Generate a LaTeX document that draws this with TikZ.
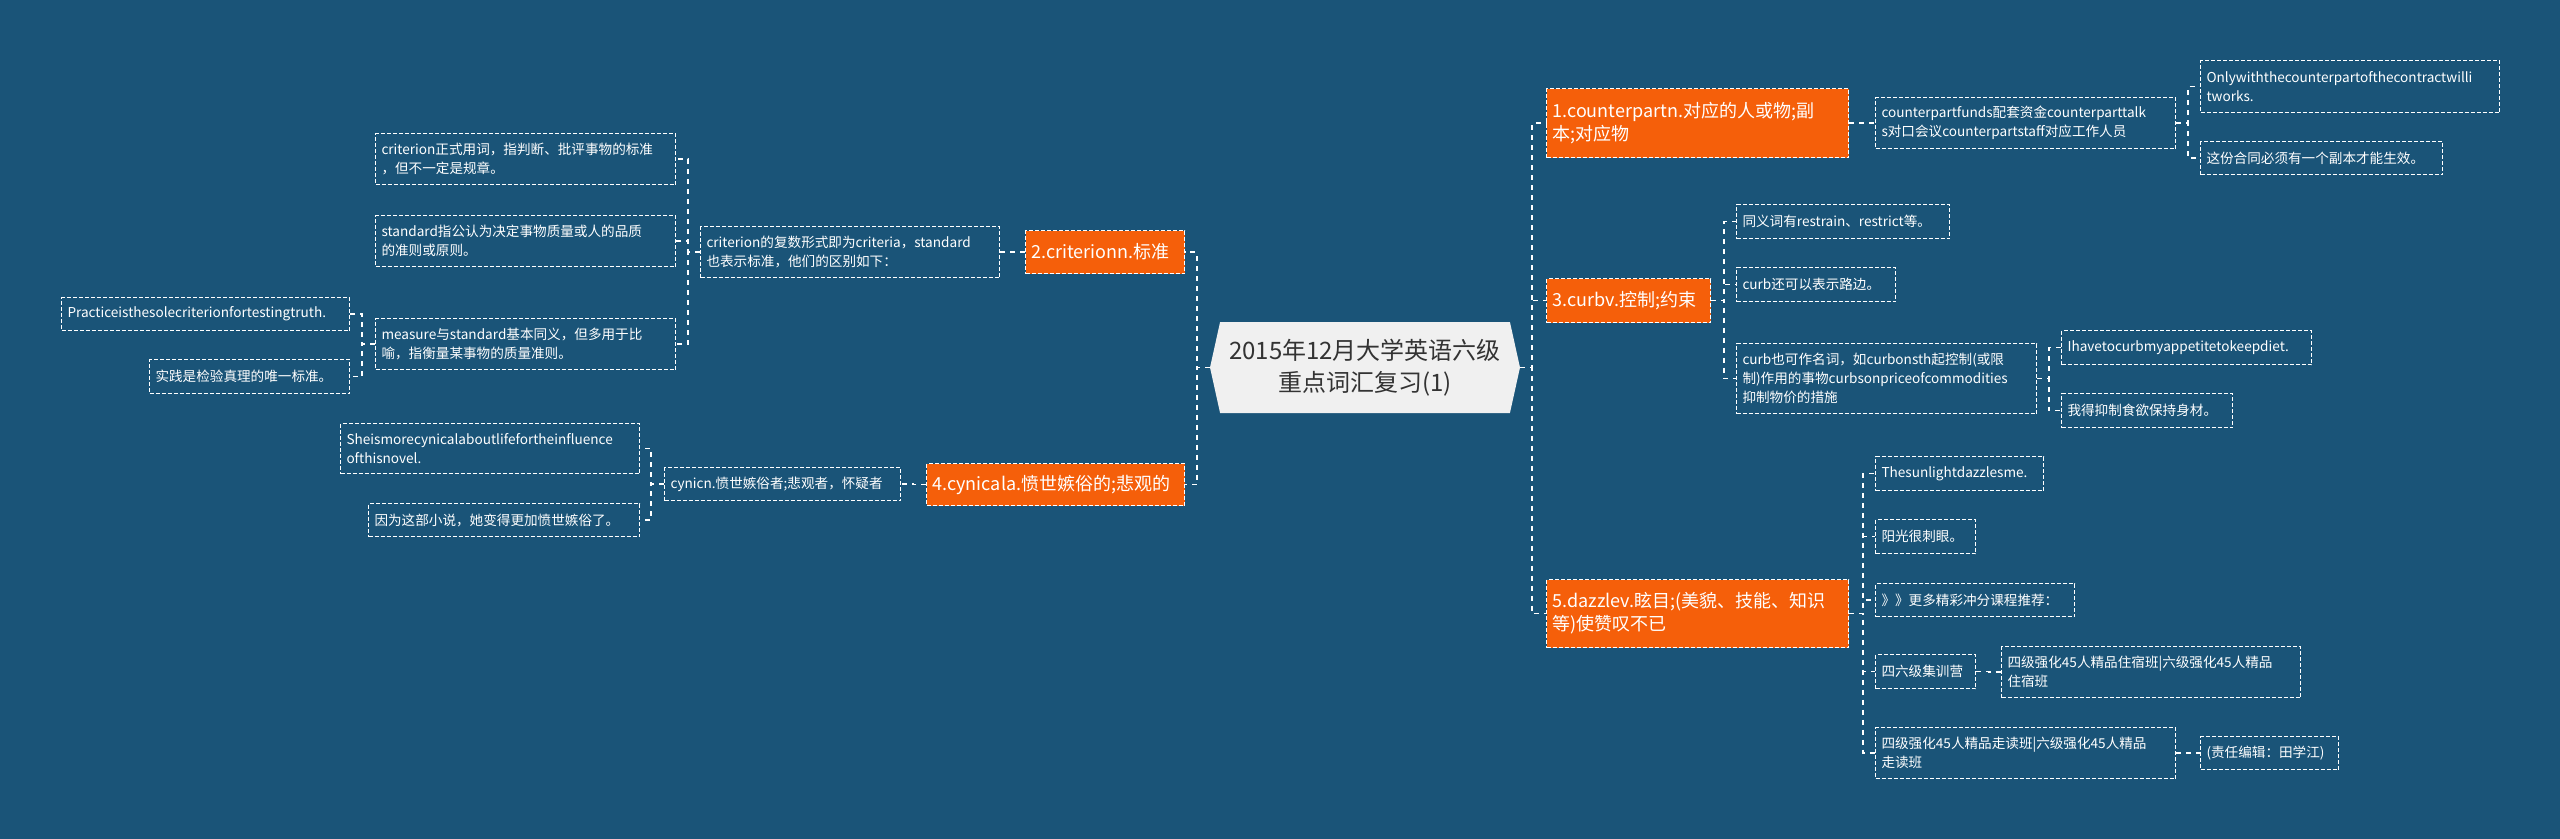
\documentclass[tikz,border=0pt]{standalone}
\usepackage{fontspec}
\setmainfont{Noto Sans CJK SC}
\usepackage{xcolor}
\usepackage{tikz}
\usetikzlibrary{shapes.symbols}
\definecolor{mapbg}{HTML}{1A5478}
\definecolor{topicfill}{HTML}{F55F0A}
\definecolor{rootfill}{HTML}{F0F0F0}
\definecolor{roottext}{HTML}{333333}

\begin{document}
\begin{tikzpicture}[
  x=0.75pt, y=-0.75pt,
  leaf/.style={draw=white, dash pattern=on 3pt off 1.5pt, line width=0.75pt, text=white,
               font=\fontsize{10.2}{14.25}\selectfont, align=left, anchor=north west,
               inner xsep=4.5pt, inner ysep=0pt},
  topic/.style={leaf, fill=topicfill, font=\fontsize{13.5}{17.25}\selectfont},
  root/.style={signal, signal to=west and east, signal pointer angle=155, fill=rootfill,
               text=roottext, font=\fontsize{18}{24}\selectfont, align=center,
               minimum width=232.5pt, minimum height=68.25pt, inner sep=0pt},
  link/.style={draw=white, dash pattern=on 3.75pt off 3.75pt, line width=1.2pt},
]
\useasboundingbox (0,0) rectangle (2560,839);
\fill[mapbg] (0,0) rectangle (2560,839);

\node[root] (root) at (1365,367.5) {2015年12月大学英语六级\\重点词汇复习(1)};

\node[topic, text width=110.25pt, minimum height=32.25pt] (crit) at (1025,230) {2.criterionn.标准};
\node[leaf, text width=215.25pt, minimum height=38.25pt] (critsub) at (700,226) {criterion的复数形式即为criteria，standard\\也表示标准，他们的区别如下：};
\node[leaf, text width=216pt, minimum height=38.25pt] (critA) at (375,133) {criterion正式用词，指判断、批评事物的标准\\，但不一定是规章。};
\node[leaf, text width=216pt, minimum height=38.25pt] (critB) at (375,215) {standard指公认为决定事物质量或人的品质\\的准则或原则。};
\node[leaf, text width=216pt, minimum height=38.25pt] (critC) at (375,318) {measure与standard基本同义，但多用于比\\喻，指衡量某事物的质量准则。};
\node[leaf, text width=207pt, minimum height=24.75pt] (critCa) at (61,297) {Practiceisthesolecriterionfortestingtruth.};
\node[leaf, text width=141pt, minimum height=25.5pt] (critCb) at (149,359) {实践是检验真理的唯一标准。};

\node[topic, text width=184.5pt, minimum height=31.5pt] (cyn) at (926,463) {4.cynicala.愤世嫉俗的;悲观的};
\node[leaf, text width=168pt, minimum height=24.75pt] (cynsub) at (664,467) {cynicn.愤世嫉俗者;悲观者，怀疑者};
\node[leaf, text width=215.25pt, minimum height=37.5pt] (cynA) at (340,423) {Sheismorecynicalaboutlifefortheinfluence\\ofthisnovel.};
\node[leaf, text width=194.25pt, minimum height=24.75pt] (cynB) at (368,503) {因为这部小说，她变得更加愤世嫉俗了。};

\node[topic, text width=217.5pt, minimum height=51.75pt] (cp) at (1546,88) {1.counterpartn.对应的人或物;副\\本;对应物};
\node[leaf, text width=216pt, minimum height=38.25pt] (cpsub) at (1875,97) {counterpartfunds配套资金counterparttalk\\s对口会议counterpartstaff对应工作人员};
\node[leaf, text width=215.25pt, minimum height=39pt] (cpA) at (2200,60) {Onlywiththecounterpartofthecontractwilli\\tworks.};
\node[leaf, text width=172.5pt, minimum height=24.75pt] (cpB) at (2200,141) {这份合同必须有一个副本才能生效。};

\node[topic, text width=114pt, minimum height=33pt] (curb) at (1546,278) {3.curbv.控制;约束};
\node[leaf, text width=150.75pt, minimum height=25.5pt] (curbA) at (1736,204) {同义词有restrain、restrict等。};
\node[leaf, text width=110.25pt, minimum height=25.5pt] (curbB) at (1736,267) {curb还可以表示路边。};
\node[leaf, text width=216pt, minimum height=52.5pt] (curbC) at (1736,343) {curb也可作名词，如curbonsth起控制(或限\\制)作用的事物curbsonpriceofcommodities\\抑制物价的措施};
\node[leaf, text width=178.5pt, minimum height=25.5pt] (curbCa) at (2061,330) {Ihavetocurbmyappetitetokeepdiet.};
\node[leaf, text width=119.25pt, minimum height=25.5pt] (curbCb) at (2061,393) {我得抑制食欲保持身材。};

\node[topic, text width=217.5pt, minimum height=51pt] (daz) at (1546,579) {5.dazzlev.眩目;(美貌、技能、知识\\等)使赞叹不已};
\node[leaf, text width=117pt, minimum height=25.5pt] (dazA) at (1875,456) {Thesunlightdazzlesme.};
\node[leaf, text width=66pt, minimum height=25.5pt] (dazB) at (1875,519) {阳光很刺眼。};
\node[leaf, text width=140.25pt, minimum height=24.75pt] (dazC) at (1875,583) {》》更多精彩冲分课程推荐：};
\node[leaf, text width=66pt, minimum height=25.5pt] (dazD) at (1875,654) {四六级集训营};
\node[leaf, text width=215.25pt, minimum height=38.25pt] (dazDa) at (2001,646) {四级强化45人精品住宿班|六级强化45人精品\\住宿班};
\node[leaf, text width=216pt, minimum height=38.25pt] (dazE) at (1875,727) {四级强化45人精品走读班|六级强化45人精品\\走读班};
\node[leaf, text width=94.5pt, minimum height=24.75pt] (dazEa) at (2200,736) {(责任编辑：田学江)};

\draw[link] (root.west) -- ++(-13,0) |- (crit.east)
            (root.west) -- ++(-13,0) |- (cyn.east);
\draw[link] (crit.west) -- ++(-13,0) |- (critsub.east);
\draw[link] (critsub.west) -- ++(-12,0) |- (critA.east)
            (critsub.west) -- ++(-12,0) |- (critB.east)
            (critsub.west) -- ++(-12,0) |- (critC.east);
\draw[link] (critC.west) -- ++(-13,0) |- (critCa.east)
            (critC.west) -- ++(-13,0) |- (critCb.east);
\draw[link] (cyn.west) -- ++(-13,0) |- (cynsub.east);
\draw[link] (cynsub.west) -- ++(-13,0) |- (cynA.east)
            (cynsub.west) -- ++(-13,0) |- (cynB.east);

\draw[link] (root.east) -- ++(12,0) |- (cp.west)
            (root.east) -- ++(12,0) |- (curb.west)
            (root.east) -- ++(12,0) |- (daz.west);
\draw[link] (cp.east) -- ++(14,0) |- (cpsub.west);
\draw[link] (cpsub.east) -- ++(12,0) |- (cpA.west)
            (cpsub.east) -- ++(12,0) |- (cpB.west);
\draw[link] (curb.east) -- ++(13,0) |- (curbA.west)
            (curb.east) -- ++(13,0) |- (curbB.west)
            (curb.east) -- ++(13,0) |- (curbC.west);
\draw[link] (curbC.east) -- ++(12,0) |- (curbCa.west)
            (curbC.east) -- ++(12,0) |- (curbCb.west);
\draw[link] (daz.east) -- ++(14,0) |- (dazA.west)
            (daz.east) -- ++(14,0) |- (dazB.west)
            (daz.east) -- ++(14,0) |- (dazC.west)
            (daz.east) -- ++(14,0) |- (dazD.west)
            (daz.east) -- ++(14,0) |- (dazE.west);
\draw[link] (dazD.east) -- ++(13,0) |- (dazDa.west);
\draw[link] (dazE.east) -- ++(12,0) |- (dazEa.west);
\end{tikzpicture}
\end{document}
